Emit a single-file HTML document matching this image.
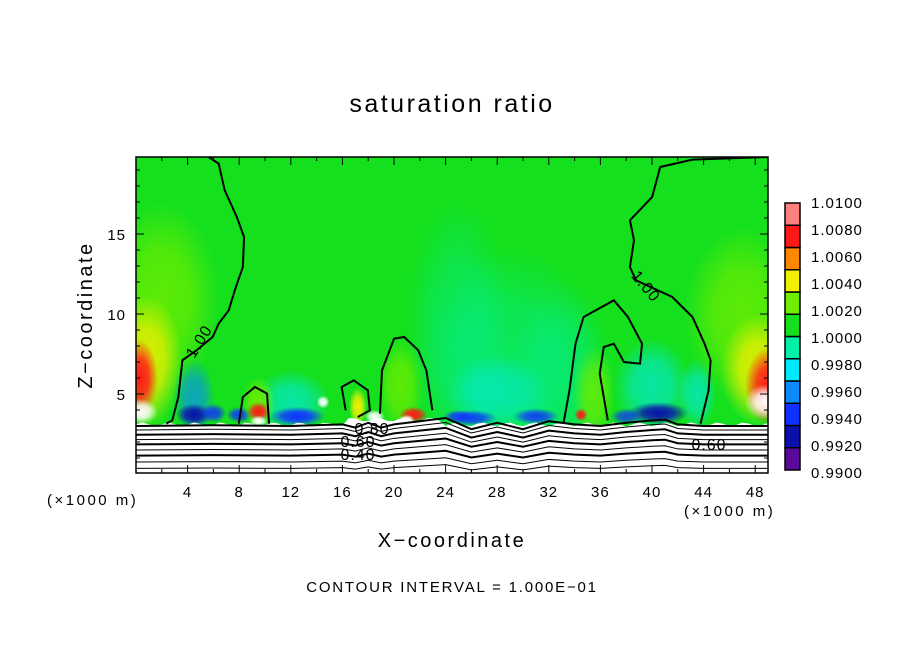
<!DOCTYPE html>
<html><head><meta charset="utf-8"><style>
body{margin:0;background:#fff;}
svg{display:block;font-family:"Liberation Sans",sans-serif;}
</style></head><body>
<svg id="chart" width="904" height="654" viewBox="0 0 904 654">
<rect width="904" height="654" fill="#fff"/>
<text x="452" y="112" font-size="25" text-anchor="middle" letter-spacing="2.5">saturation ratio</text>
<defs><clipPath id="pc"><rect x="136" y="157" width="632" height="316"/></clipPath>
<filter id="soft" x="-10%" y="-10%" width="120%" height="120%"><feGaussianBlur stdDeviation="2"/></filter></defs>
<g id="field" clip-path="url(#pc)"></g>
<g id="contours" clip-path="url(#pc)"></g>
<g id="axes"></g>
<g id="cbar"></g>
<text transform="translate(92,315) rotate(-90)" font-size="20" text-anchor="middle" letter-spacing="2.5">Z−coordinate</text>
<text x="452" y="547" font-size="20" text-anchor="middle" letter-spacing="2.5">X−coordinate</text>
<text x="47" y="505" font-size="15" letter-spacing="2.5">(×1000 m)</text>
<text x="684" y="516" font-size="15" letter-spacing="2.5">(×1000 m)</text>
<text x="452" y="592" font-size="15" text-anchor="middle" letter-spacing="1.8">CONTOUR INTERVAL = 1.000E−01</text>
</svg>
<script>
const NS='http://www.w3.org/2000/svg';
const xTicks=[4,8,12,16,20,24,28,32,36,40,44,48];
const yTicks=[5,10,15];
const cbarLabels=['1.0100','1.0080','1.0060','1.0040','1.0020','1.0000','0.9980','0.9960','0.9940','0.9920','0.9900'];
const cbarColors=['#5a0a9a','#0a10a8','#1030ff','#0a8cff','#00eaff','#00f0a8','#14e01e','#70ee00','#f0f000','#ff8800','#ff1818','#ff8080'];
const baseValue=1.0003;
// blobs: x km, z km, rx km, rz km, value, strength
const blobX=[2,0.8,0.3,0.4, 47,48.3,49,48.8, 29,25,33, 4.5,4.5,6, 12,12.5,8, 28,26,31,25, 40,40.5,43.5,38, 9.5,9.5,9.5, 20.5,21.5,17.2,35.5,34.5,14.5,18.5,21];
const blobZ=[11,7,6,3.9,   10,6.5,5.5,4.5, 7,9,6,   4.8,3.7,3.8, 4.5,3.6,3.7, 5,3.5,3.6,3.6,   5.5,3.8,5,3.6,  4.5,3.9,3.3,   5.5,3.7,4.2,5,3.7,4.5,3.6,3.4];
const blobRX=[4.5,2.8,1.4,1.3, 4.5,3,1.8,1.6, 7,4,4, 1.6,1.4,1, 3,2.2,1, 4,2,1.8,1.2, 3,2.4,1.5,1.2, 1.3,0.9,0.7, 1.8,1.1,0.7,1.6,0.5,0.5,0.8,0.6];
const blobRZ=[6,4.2,2.4,0.8, 5.5,3.5,2.4,1.1, 7,8,6, 2.4,0.7,0.6, 2,0.6,0.5, 2.5,0.5,0.5,0.4, 3,0.7,2.2,0.5, 1.6,0.6,0.35, 3,0.5,1.2,3,0.4,0.4,0.4,0.3];
const blobV=[1.0022,1.0045,1.0075,1.0115, 1.0022,1.0045,1.0075,1.0115, 0.9985,0.9985,0.9985, 0.9965,0.9932,0.9935, 0.997,0.9935,0.9935, 0.9972,0.9935,0.9935,0.994, 0.9968,0.9932,0.9968,0.994, 1.0022,1.007,1.0115, 1.002,1.007,1.0045,1.002,1.007,1.0115,1.0115,1.0115];
const blobA=[0.8,0.9,1,1, 0.8,0.9,1,1, 0.45,0.4,0.4, 0.7,1,0.9, 0.6,1,0.9, 0.5,0.9,0.9,0.8, 0.6,1,0.6,0.8, 0.9,1,1, 0.8,1,1,0.8,1,1,1,1];
const stations=[0,6,12,16,17,18,19,20,22,24,26,28,30,32,34,36,38,40,41,42,44,49];
const levelZ=[3.0,2.75,2.45,2.15,1.85,1.5,1.15,0.75,0.35];
const levelW=[2,1,2,1,2,1,2,1,1];
const bump=[0,0.05,0,0.1,-0.1,0.2,-0.1,0.1,0.3,0.5,-0.2,0.2,-0.2,0.3,0.1,0,0.2,0.35,0.4,0.1,0,0];
const X=v=>136+v*12.9, Z=v=>474-v*16;
function cmap(v){if(v>=1.01)return '#ffffff';let i=Math.floor((v-0.99)/0.02*12);i=Math.max(0,Math.min(11,i));return cbarColors[i];}
const field=document.getElementById('field'), defs=document.querySelector('defs');
let r=document.createElementNS(NS,'rect');


r.setAttribute('x',136);r.setAttribute('y',157);r.setAttribute('width',632);r.setAttribute('height',316);r.setAttribute('fill',cmap(baseValue));field.appendChild(r);
blobX.forEach((bx,i)=>{
 const c=cmap(blobV[i]);const a=blobA[i];const g=document.createElementNS(NS,'radialGradient');g.id='g'+i;
 g.innerHTML=`<stop offset="0" stop-color="${c}" stop-opacity="${a}"/><stop offset="0.5" stop-color="${c}" stop-opacity="${a*0.8}"/><stop offset="1" stop-color="${c}" stop-opacity="0"/>`;
 defs.appendChild(g);
 const e=document.createElementNS(NS,'ellipse');
 
 
 e.setAttribute('cx',X(bx));e.setAttribute('cy',Z(blobZ[i]));e.setAttribute('rx',blobRX[i]*12.9);e.setAttribute('ry',blobRZ[i]*16);e.setAttribute('fill','url(#g'+i+')');field.appendChild(e);
});
let gp='M136,473 ';for(let x=0;x<=49;x+=0.5){gp+=`L${X(x)},${Z(3.1+0.12*Math.sin(x*3.1)+(x>16&&x<24?0.3:0))} `;}gp+='L768,473Z';
let wp=document.createElementNS(NS,'path');


wp.setAttribute('d',gp);wp.setAttribute('fill','#fff');field.appendChild(wp);
const cont=document.getElementById('contours');
levelZ.forEach((lz,k)=>{
 const s=1-k/levelZ.length*0.6;
 const d=stations.map((x,j)=>(j?'L':'M')+X(x)+','+Z(lz+bump[j]*s)).join(' ');
 const p=document.createElementNS(NS,'path');
 
 
 p.setAttribute('d',d);p.setAttribute('fill','none');p.setAttribute('stroke','#000');p.setAttribute('stroke-width',levelW[k]);cont.appendChild(p);
});
const traces=[
 [[180,0],[205,20],[220,100],[250,180],[268,240],[265,330],[245,400],[230,460],[205,500],[190,540],[150,580],[115,610],[105,720],[90,790],[75,800]],
 [[1568,0],[1380,8],[1300,30],[1280,120],[1225,190],[1235,250],[1225,330],[1240,370],[1330,420],[1380,480],[1410,560],[1425,610],[1420,700],[1400,800]],
 [[1060,800],[1075,700],[1090,560],[1110,480],[1185,430],[1220,480],[1255,560],[1250,620],[1210,615],[1185,560],[1160,570],[1150,650],[1170,790]],
 [[255,800],[265,720],[295,690],[325,710],[330,800]],
 [[605,770],[610,640],[640,545],[665,540],[700,580],[720,640],[735,760]],
 [[520,760],[510,690],[540,670],[575,700],[580,760],[550,780]]
];
traces.forEach(t=>{
 const p=document.createElementNS(NS,'path');
 
 
 p.setAttribute('d',t.map((q,j)=>(j?'L':'M')+(136+q[0]/2.48)+','+(157+q[1]/3)).join(' '));
 p.setAttribute('fill','none');p.setAttribute('stroke','#000');p.setAttribute('stroke-width',2);cont.appendChild(p);
});
const labs=[[200,342,-58,'1.00'],[645,287,50,'1.00'],[372,430,0,'0.80'],[358,443,0,'0.60'],[358,456,0,'0.40'],[709,446,0,'0.60']];
labs.forEach(l=>{
 const t=document.createElementNS(NS,'text');
 
 
 t.setAttribute('transform',`translate(${l[0]},${l[1]}) rotate(${l[2]})`);t.setAttribute('font-size','16');t.setAttribute('text-anchor','middle');t.setAttribute('dominant-baseline','middle');t.setAttribute('letter-spacing','1');t.textContent=l[3];cont.appendChild(t);
});
const ax=document.getElementById('axes');let h='<rect x="136" y="157" width="632" height="316" fill="none" stroke="#000" stroke-width="1.5"/>';
for(let x=2;x<=48;x+=2){const L=x%4?4:8;h+=`<line x1="${X(x)}" y1="473" x2="${X(x)}" y2="${473-L}" stroke="#000"/><line x1="${X(x)}" y1="157" x2="${X(x)}" y2="${157+L}" stroke="#000"/>`;}
for(let z=1;z<=19;z++){const L=z%5?4:8;h+=`<line x1="136" y1="${Z(z)}" x2="${136+L}" y2="${Z(z)}" stroke="#000"/><line x1="768" y1="${Z(z)}" x2="${768-L}" y2="${Z(z)}" stroke="#000"/>`;}
ax.innerHTML=h;
xTicks.forEach(v=>{const t=document.createElementNS(NS,'text');
 
 
 t.setAttribute('x',X(v));t.setAttribute('y',497);t.setAttribute('font-size','15');t.setAttribute('text-anchor','middle');t.setAttribute('letter-spacing','1');t.textContent=v;ax.appendChild(t);});
yTicks.forEach(v=>{const t=document.createElementNS(NS,'text');
 
 
 t.setAttribute('x',126);t.setAttribute('y',Z(v)+6);t.setAttribute('font-size','15');t.setAttribute('text-anchor','end');t.setAttribute('letter-spacing','1');t.textContent=v;ax.appendChild(t);});
const cb=document.getElementById('cbar');const cbTop=203,cbBot=470,bh=(cbBot-cbTop)/12;
cbarColors.forEach((c,i)=>{const rr=document.createElementNS(NS,'rect');
 
 
 rr.setAttribute('x',785);rr.setAttribute('y',cbBot-(i+1)*bh);rr.setAttribute('width',15);rr.setAttribute('height',bh);rr.setAttribute('fill',c);rr.setAttribute('stroke','#000');rr.setAttribute('stroke-width',1.5);cb.appendChild(rr);});
cbarLabels.forEach((s,i)=>{const t=document.createElementNS(NS,'text');
 
 
 t.setAttribute('x',811);t.setAttribute('y',208+i*27);t.setAttribute('font-size','15');t.setAttribute('letter-spacing','1');t.textContent=s;cb.appendChild(t);});
</script>
</body></html>
